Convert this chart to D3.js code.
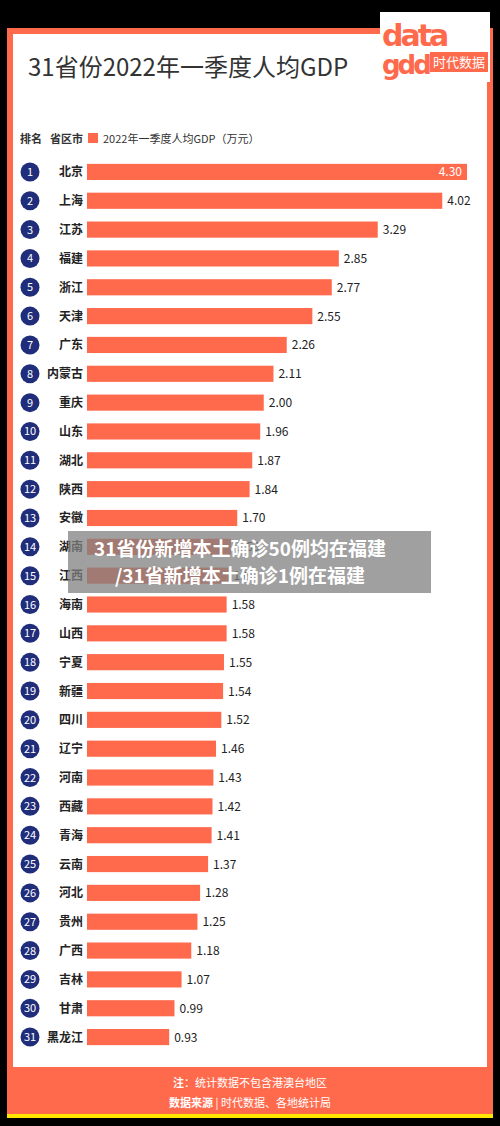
<!DOCTYPE html>
<html><head><meta charset="utf-8">
<script src="https://cdn.jsdelivr.net/npm/d3@7"></script>
<style>body{margin:0;background:#000}svg{display:block}</style>
</head><body>
<div id="chart"></div>
<script>
const provinces = ["北京","上海","江苏","福建","浙江","天津","广东","内蒙古","重庆","山东","湖北","陕西","安徽","湖南","江西","海南","山西","宁夏","新疆","四川","辽宁","河南","西藏","青海","云南","河北","贵州","广西","吉林","甘肃","黑龙江"];
const gdp = [4.30,4.02,3.29,2.85,2.77,2.55,2.26,2.11,2.00,1.96,1.87,1.84,1.70,1.63,1.60,1.58,1.58,1.55,1.54,1.52,1.46,1.43,1.42,1.41,1.37,1.28,1.25,1.18,1.07,0.99,0.93];
const ranks = d3.range(1, 32);

const W = 500, H = 1126, orange = "#ff6a4d", font = "'Noto Sans CJK SC','Noto Sans',sans-serif";
const svg = d3.select("#chart").append("svg").attr("width", W).attr("height", H).style("font-family", font);

svg.append("rect").attr("width", W).attr("height", H).attr("fill", "#000");
svg.append("rect").attr("x", 7).attr("y", 28).attr("width", 486).attr("height", 1090).attr("fill", orange);
svg.append("rect").attr("x", 7).attr("y", 1114).attr("width", 486).attr("height", 4).attr("fill", "#ffe600");
svg.append("rect").attr("x", 13).attr("y", 34).attr("width", 474).attr("height", 1033).attr("fill", "#fff");

// logo
const logo = svg.append("g");
logo.append("rect").attr("x", 380).attr("y", 12).attr("width", 110).attr("height", 70).attr("fill", "#fff");
logo.append("text").attr("x", 382).attr("y", 46).attr("font-size", 30).attr("font-weight", 900)
  .attr("fill", orange).attr("font-family", "DejaVu Sans").attr("letter-spacing", -3).text("data");
logo.append("text").attr("x", 382).attr("y", 74).attr("font-size", 26).attr("font-weight", 900)
  .attr("fill", orange).attr("font-family", "DejaVu Sans").attr("letter-spacing", -3).text("gdd");
logo.append("rect").attr("x", 430).attr("y", 52).attr("width", 58).attr("height", 20).attr("fill", orange);
logo.append("text").attr("x", 459).attr("y", 67).attr("text-anchor", "middle").attr("font-size", 13)
  .attr("fill", "#fff").text("时代数据");

svg.append("text").attr("x", 28).attr("y", 76).attr("font-size", 24).attr("fill", "#333").text("31省份2022年一季度人均GDP");

// header
svg.append("text").attr("x", 20).attr("y", 143).attr("font-size", 11).attr("font-weight", 700).attr("fill", "#333").text("排名");
svg.append("text").attr("x", 50).attr("y", 143).attr("font-size", 11).attr("font-weight", 700).attr("fill", "#333").text("省区市");
svg.append("rect").attr("x", 88).attr("y", 133).attr("width", 10).attr("height", 10).attr("fill", orange);
svg.append("text").attr("x", 103).attr("y", 143).attr("font-size", 11).attr("fill", "#333").text("2022年一季度人均GDP（万元）");

const y = d3.scaleBand().domain(provinces).range([157.5, 1051.5]).paddingInner(0.44).paddingOuter(0.22);
const x = d3.scaleLinear().domain([0, 4.30]).range([87, 467]);

const rows = svg.append("g").selectAll("g").data(provinces).join("g")
  .attr("transform", d => `translate(0,${y(d)})`);
const bh = y.bandwidth();
rows.append("circle").attr("cx", 30).attr("cy", bh / 2).attr("r", 9.5).attr("fill", "#1f2d7a");
rows.append("text").attr("x", 30).attr("y", bh / 2 + 4).attr("text-anchor", "middle").attr("font-size", 11)
  .attr("fill", "#fff").text((d, i) => ranks[i]);
rows.append("text").attr("x", 83).attr("y", bh / 2 + 4.5).attr("text-anchor", "end").attr("font-size", 12)
  .attr("font-weight", 700).attr("fill", "#222").text(d => d);
rows.append("rect").attr("x", x(0)).attr("y", 0).attr("height", bh)
  .attr("width", (d, i) => x(gdp[i]) - x(0)).attr("fill", orange);
rows.append("text")
  .attr("x", (d, i) => i === 0 ? x(gdp[i]) - 5 : x(gdp[i]) + 5)
  .attr("text-anchor", (d, i) => i === 0 ? "end" : "start")
  .attr("y", bh / 2 + 4.5).attr("font-size", 12)
  .attr("fill", (d, i) => i === 0 ? "#fff" : "#222")
  .text((d, i) => gdp[i].toFixed(2));

// footer
svg.append("text").attr("x", 250).attr("y", 1087).attr("text-anchor", "middle").attr("font-size", 11).attr("fill", "#fff")
  .html('<tspan font-weight="700">注</tspan>：统计数据不包含港澳台地区');
svg.append("text").attr("x", 250).attr("y", 1107).attr("text-anchor", "middle").attr("font-size", 11).attr("fill", "#fff")
  .html('<tspan font-weight="700">数据来源</tspan> | 时代数据、各地统计局');

// overlay caption
svg.append("rect").attr("x", 68).attr("y", 531).attr("width", 363).attr("height", 62).attr("fill", "#808080").attr("opacity", 0.75);
svg.append("text").attr("x", 240).attr("y", 556).attr("text-anchor", "middle").attr("font-size", 19).attr("font-weight", 700)
  .attr("fill", "#fff").text("31省份新增本土确诊50例均在福建");
svg.append("text").attr("x", 240).attr("y", 583).attr("text-anchor", "middle").attr("font-size", 19).attr("font-weight", 700)
  .attr("fill", "#fff").text("/31省新增本土确诊1例在福建");
</script>
</body></html>
